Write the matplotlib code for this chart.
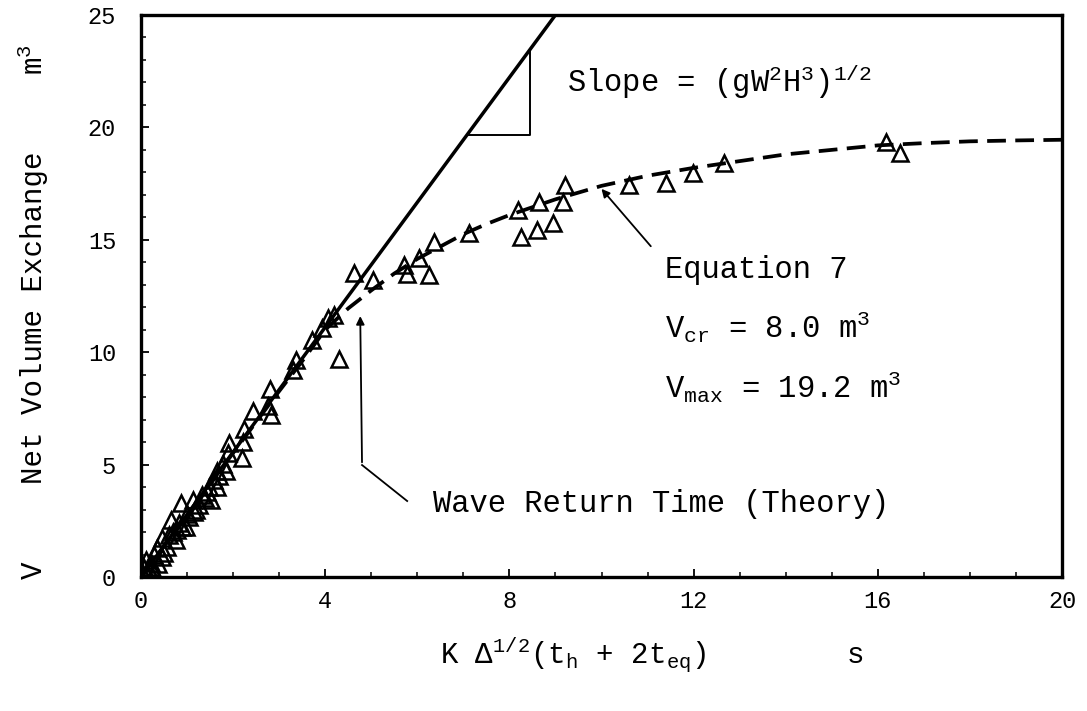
import numpy as np
import matplotlib.pyplot as plt

plt.rcParams['font.family'] = ['Liberation Mono', 'DejaVu Sans Mono']
plt.rcParams['mathtext.fontset'] = 'custom'
plt.rcParams['mathtext.rm'] = 'Liberation Mono'
plt.rcParams['mathtext.default'] = 'regular'

# measured points (open triangles)
obs_x = [0.03, 0.07, 0.10, 0.12, 0.17, 0.21, 0.22, 0.28, 0.28, 0.35, 0.38, 0.46, 0.46,
         0.50, 0.57, 0.60, 0.65, 0.70, 0.75, 0.78, 0.83, 0.86, 0.90, 0.97, 1.00, 1.04,
         1.12, 1.15, 1.20, 1.26, 1.33, 1.38, 1.44, 1.48, 1.52, 1.59, 1.64, 1.66, 1.70,
         1.77, 1.84, 1.90, 1.91, 2.19, 2.22, 2.24, 2.43, 2.75, 2.80, 2.82, 3.29, 3.36,
         3.72, 3.94, 4.05, 4.20, 4.29, 4.63, 5.03, 5.72, 5.77, 6.03, 6.26, 6.37, 7.13,
         8.18, 8.25, 8.59, 8.64, 8.94, 9.16, 9.20, 10.59, 11.41, 11.99, 12.67, 16.17, 16.49]
obs_y = [0.24, 0.39, 0.76, 0.15, 0.31, 0.61, 0.45, 0.24, 0.98, 1.28, 0.60, 0.90, 1.72,
         1.05, 1.35, 1.87, 2.54, 2.00, 1.65, 2.10, 2.39, 3.28, 2.24, 2.24, 2.80, 2.68,
         3.43, 2.90, 3.00, 3.20, 3.65, 3.50, 3.80, 4.00, 3.43, 4.31, 4.02, 4.73, 4.50,
         5.03, 4.73, 5.50, 5.97, 5.28, 6.02, 6.57, 7.40, 7.60, 8.35, 7.20, 9.20, 9.65,
         10.54, 11.06, 11.50, 11.65, 9.68, 13.54, 13.20, 13.88, 13.50, 14.18, 13.43, 14.92, 15.29,
         16.33, 15.14, 15.44, 16.70, 15.73, 16.70, 17.44, 17.44, 17.54, 17.99, 18.40, 19.36, 18.85]

# wave return time line (solid) end points
line_x = [0.0, 9.0]
line_y = [0.0, 25.0]

# Equation 7 curve (dashed)
eq_x = [0.0, 2.9, 3.5, 4.0, 4.5, 5.0, 5.5, 6.0, 6.5, 7.0, 7.5, 8.0, 9.0, 10.0,
        11.0, 12.0, 13.0, 14.0, 15.0, 16.0, 17.0, 18.0, 19.0, 20.0]
eq_y = [0.0, 8.0, 9.6, 11.0, 11.95, 12.75, 13.5, 14.15, 14.7, 15.25, 15.7, 16.1, 16.8, 17.4,
        17.85, 18.2, 18.5, 18.8, 19.0, 19.2, 19.3, 19.38, 19.42, 19.45]

fig = plt.figure(figsize=(10.87, 7.11), dpi=100)
ax = fig.add_axes([141 / 1087, 1 - 577 / 711, 921 / 1087, 562 / 711])

ax.plot(line_x, line_y, color='black', lw=2.5, solid_capstyle='butt')
ax.plot(eq_x, eq_y, color='black', lw=2.7, dashes=(5, 2.5))
ax.plot(obs_x, obs_y, linestyle='none', marker='^', ms=11, mfc='none',
        mec='black', mew=1.8)

# slope triangle
ax.plot([7.07, 8.45, 8.45], [19.65, 19.65, 23.47], color='black', lw=1.4)

txt = dict(fontsize=22, va='baseline', ha='left')
ax.text(9.25, 21.57, r'Slope = (gW$^2$H$^3$)$^{1/2}$', **txt)
ax.text(11.38, 13.3, 'Equation 7', **txt)
ax.text(11.38, 10.63, r'V$_{cr}$ = 8.0 m$^3$', **txt)
ax.text(11.38, 7.96, r'V$_{max}$ = 19.2 m$^3$', **txt)
ax.text(6.34, 2.9, 'Wave Return Time (Theory)', **txt)

arrow = dict(arrowstyle='-|>', color='black', lw=1.3, mutation_scale=12)
ax.annotate('', xy=(9.96, 17.36), xytext=(11.11, 14.62), arrowprops=arrow)
ax.plot([4.80, 5.78], [4.98, 3.38], color='black', lw=1.3)
ax.annotate('', xy=(4.76, 11.73), xytext=(4.80, 4.98), arrowprops=arrow)

ax.set_xlim(0, 20)
ax.set_ylim(0, 25)
ax.set_xticks([0, 4, 8, 12, 16, 20])
ax.set_xticks(np.arange(0, 21, 1), minor=True)
ax.set_yticks([0, 5, 10, 15, 20, 25])
ax.set_yticks(np.arange(0, 26, 1), minor=True)
ax.tick_params(which='both', direction='in', top=False, right=False, labelsize=17)
ax.tick_params(which='major', length=6, width=1.3)
ax.tick_params(which='minor', length=3.5, width=1.1)
ax.tick_params(axis='y', pad=18)
ax.tick_params(axis='x', pad=9)
for s in ax.spines.values():
    s.set_linewidth(2.4)

# axis titles
fig.text(34 / 1087, 1 - 570 / 711, 'V', rotation=90, fontsize=21, ha='center', va='center')
fig.text(34 / 1087, 1 - 318 / 711, 'Net Volume Exchange', rotation=90, fontsize=21,
         ha='center', va='center')
fig.text(34 / 1087, 1 - 60 / 711, r'm$^3$', rotation=90, fontsize=21, ha='center', va='center')
fig.text(440 / 1087, 1 - 655 / 711, r'K Δ$^{1/2}$(t$_h$ + 2t$_{eq}$)', fontsize=21,
         ha='left', va='center')
fig.text(855 / 1087, 1 - 655 / 711, 's', fontsize=21, ha='center', va='center')

fig.savefig('out.png', dpi=100)
